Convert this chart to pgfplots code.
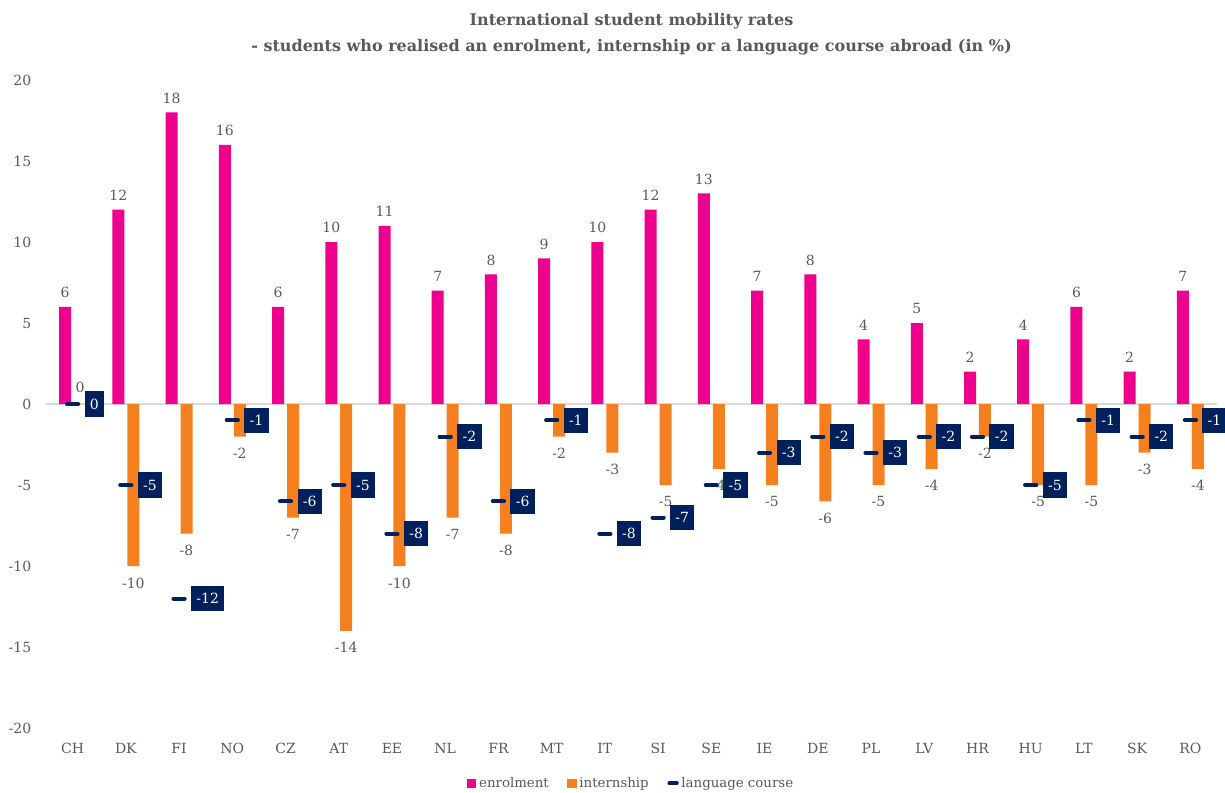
\documentclass[border=0pt]{standalone}
\usepackage{pgfplots}
\usepackage{pgfplotstable}
\pgfplotsset{compat=1.18}
\usepackage{fontspec}
\setmainfont{DejaVu Serif}
\definecolor{enr}{RGB}{236,0,140}
\definecolor{intc}{RGB}{245,128,32}
\definecolor{navy}{RGB}{0,32,91}
\definecolor{txt}{RGB}{89,89,89}
\pgfplotstableread{
x enr int lang
0 6 0 0
1 12 -10 -5
2 18 -8 -12
3 16 -2 -1
4 6 -7 -6
5 10 -14 -5
6 11 -10 -8
7 7 -7 -2
8 8 -8 -6
9 9 -2 -1
10 10 -3 -8
11 12 -5 -7
12 13 -4 -5
13 7 -5 -3
14 8 -6 -2
15 4 -5 -3
16 5 -4 -2
17 2 -2 -2
18 4 -5 -5
19 6 -5 -1
20 2 -3 -2
21 7 -4 -1
}\data
\begin{document}
\begin{tikzpicture}
\begin{axis}[
  scale only axis,
  width=878pt, height=486pt,
  xmin=-0.5, xmax=21.5, ymin=-20, ymax=20,
  ytick={-20,-15,...,20},
  xtick={0,...,21},
  xticklabels={CH,DK,FI,NO,CZ,AT,EE,NL,FR,MT,IT,SI,SE,IE,DE,PL,LV,HR,HU,LT,SK,RO},
  axis line style={draw=none},
  tick style={draw=none},
  /pgf/number format/assume math mode=true,
  tick label style={font=\fontsize{10.5}{12}\selectfont, text=txt},
  xticklabel style={yshift=-8pt},
  yticklabel style={xshift=-7.5pt},
  extra y ticks={0}, extra y tick labels={},
  extra y tick style={grid=major, grid style={black!15, line width=1pt}},
  title={International student mobility rates\\- students who realised an enrolment, internship or a language course abroad (in \%)},
  title style={font=\bfseries\fontsize{12}{19.5}\selectfont, text=txt, align=center, at={(0.5,1)}, anchor=south, yshift=9.5pt},
  legend style={at={(0.5,-0.085)}, anchor=center, draw=none, legend columns=3, font=\fontsize{10}{12}\selectfont, text=txt,
    /tikz/every even column/.append style={column sep=12pt}},
  nodes near coords style={font=\fontsize{10.5}{12}\selectfont, text=txt},
]
\addplot[ybar, bar width=9pt, bar shift=-5.6pt, fill=enr, draw=none, nodes near coords,
  every node near coord/.append style={xshift=-5.6pt, inner ysep=6.5pt},
  legend image code/.code={\fill[enr] (0pt,-3.5pt) rectangle (7pt,3.5pt);}]
  table[x=x, y=enr] {\data};
\addlegendentry{enrolment}
\addplot[ybar, bar width=9pt, bar shift=5.6pt, fill=intc, draw=none, nodes near coords,
  every node near coord/.append style={xshift=5.6pt, inner ysep=8.5pt},
  legend image code/.code={\fill[intc] (0pt,-3.5pt) rectangle (7pt,3.5pt);}]
  table[x=x, y=int] {\data};
\addlegendentry{internship}
\addplot[only marks, mark=-, mark size=4.2pt, mark options={line width=3pt, line cap=round, draw=navy},
  nodes near coords,
  every node near coord/.append style={anchor=west, xshift=7.5pt, yshift=0pt, fill=navy, text=white, minimum height=19pt, inner xsep=4pt, inner ysep=2pt},
  legend image code/.code={\draw[navy, line width=3pt, line cap=round] (1.5pt,0pt) -- (7pt,0pt);}]
  table[x=x, y=lang] {\data};
\addlegendentry{language course}
\end{axis}
\pgfresetboundingbox
\path[use as bounding box] ([shift={(-34.5pt,-48pt)}]current axis.south west) rectangle ([shift={(6pt,60pt)}]current axis.north east);
\end{tikzpicture}
\end{document}
